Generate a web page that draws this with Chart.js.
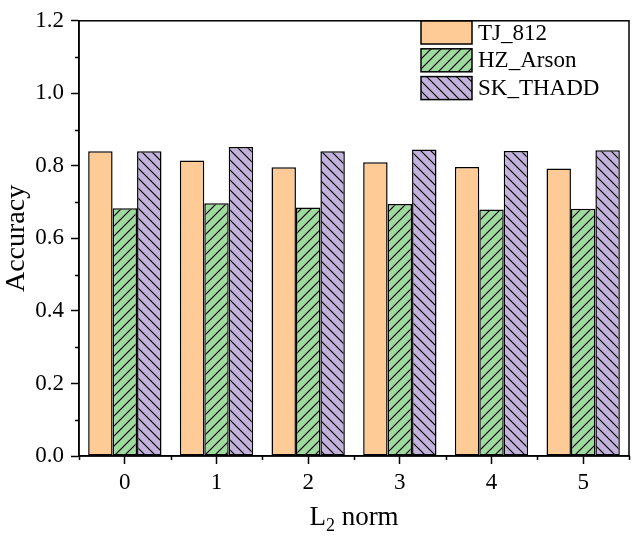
<!DOCTYPE html>
<html>
<head>
<meta charset="utf-8">
<script src="https://cdn.jsdelivr.net/npm/chart.js@4.4.1/dist/chart.umd.min.js"></script>
<style>
  html, body { margin: 0; padding: 0; background: #fff; }
</style>
</head>
<body>
<canvas id="chart" width="632" height="538"></canvas>
<script>
// data
const categories = ['0', '1', '2', '3', '4', '5'];
const seriesNames = ['TJ_812', 'HZ_Arson', 'SK_THADD'];
const tj812   = [0.840, 0.815, 0.796, 0.810, 0.797, 0.793];
const hzArson = [0.683, 0.697, 0.685, 0.695, 0.680, 0.682];
const skThadd = [0.840, 0.852, 0.840, 0.845, 0.841, 0.843];
const yMin = 0, yMax = 1.2, yStep = 0.2;

const FONT = '"Liberation Serif", "Times New Roman", serif';
const canvas = document.getElementById('chart');
const ctx = canvas.getContext('2d');

// diagonal hatch fill; dir 1 = "/", dir -1 = "\"
function hatch(bg, dir) {
  const s = 10;
  const c = document.createElement('canvas');
  c.width = s; c.height = s;
  const g = c.getContext('2d');
  g.fillStyle = bg;
  g.fillRect(0, 0, s, s);
  g.strokeStyle = '#000';
  g.lineWidth = 1.2;
  g.beginPath();
  if (dir > 0) {
    g.moveTo(-1, s + 1); g.lineTo(s + 1, -1);
    g.moveTo(-1, 1); g.lineTo(1, -1);
    g.moveTo(s - 1, s + 1); g.lineTo(s + 1, s - 1);
  } else {
    g.moveTo(-1, -1); g.lineTo(s + 1, s + 1);
    g.moveTo(s - 1, -1); g.lineTo(s + 1, 1);
    g.moveTo(-1, s - 1); g.lineTo(1, s + 1);
  }
  g.stroke();
  return ctx.createPattern(c, 'repeat');
}

const fills = [
  '#FECA96',
  hatch('#9FDA9F', 1),
  hatch('#C3B3DC', -1)
];

// frame, minor ticks, legend and x title
const extras = {
  id: 'extras',
  afterDraw(chart) {
    const c = chart.ctx;
    const a = chart.chartArea;
    const xs = chart.scales.x, ys = chart.scales.y;
    c.save();
    c.strokeStyle = '#000';
    c.lineWidth = 1.5;
    c.strokeRect(a.left, a.top, a.right - a.left, a.bottom - a.top);

    // minor ticks
    c.beginPath();
    for (let v = yMin + yStep / 2; v < yMax; v += yStep) {
      const py = Math.round(ys.getPixelForValue(v)) + 0.5;
      c.moveTo(a.left, py); c.lineTo(a.left - 4, py);
    }
    for (let i = 0; i <= categories.length; i++) {
      const px = Math.round(xs.getPixelForValue(i - 0.5)) + 0.5;
      c.moveTo(px, a.bottom); c.lineTo(px, a.bottom + 4);
    }
    c.stroke();

    // legend
    const lx = 421, ly = 21, sw = 51, sh = 23, pitch = 27.8;
    c.font = '23px ' + FONT;
    c.textBaseline = 'middle';
    c.textAlign = 'left';
    chart.data.datasets.forEach((ds, i) => {
      const y = ly + i * pitch;
      c.fillStyle = ds.backgroundColor;
      c.fillRect(lx, y, sw, sh);
      c.strokeStyle = '#000';
      c.lineWidth = 1.5;
      c.strokeRect(lx, y, sw, sh);
      c.fillStyle = '#000';
      c.fillText(ds.label, lx + sw + 6, y + sh / 2 + 1);
    });

    // x title with subscript
    const cx = (a.left + a.right) / 2;
    const by = chart.height - 13;
    c.textBaseline = 'alphabetic';
    c.font = '27px ' + FONT;
    const wL = c.measureText('L').width;
    const wN = c.measureText(' norm').width;
    c.font = '18px ' + FONT;
    const w2 = c.measureText('2').width;
    let x = cx - (wL + w2 + wN) / 2;
    c.fillStyle = '#000';
    c.font = '27px ' + FONT;
    c.fillText('L', x, by); x += wL;
    c.font = '18px ' + FONT;
    c.fillText('2', x, by + 6); x += w2;
    c.font = '27px ' + FONT;
    c.fillText(' norm', x, by);
    c.restore();
  }
};

const seriesValues = [tj812, hzArson, skThadd];

new Chart(ctx, {
  type: 'bar',
  data: {
    labels: categories,
    datasets: seriesNames.map((name, i) => ({
      label: name,
      data: seriesValues[i],
      backgroundColor: fills[i],
      borderColor: '#000',
      borderWidth: 1.5,
      borderSkipped: false,
      categoryPercentage: 0.8,
      barPercentage: 1.0
    }))
  },
  options: {
    responsive: false,
    animation: false,
    layout: { padding: { top: 13, right: 3, left: 0, bottom: 0 } },
    plugins: {
      legend: { display: false },
      tooltip: { enabled: false }
    },
    scales: {
      x: {
        grid: {
          offset: false,
          drawOnChartArea: false,
          tickLength: 8,
          tickColor: '#000',
          tickWidth: 1.5
        },
        border: { display: true, color: '#000', width: 1.5 },
        ticks: {
          color: '#000',
          padding: 5,
          font: { family: FONT, size: 23 },
          maxRotation: 0
        },
        afterFit(scale) { scale.height = 82; }
      },
      y: {
        min: yMin,
        max: yMax,
        grid: {
          drawOnChartArea: false,
          tickLength: 8,
          tickColor: '#000',
          tickWidth: 1.5
        },
        border: { display: true, color: '#000', width: 1.5 },
        ticks: {
          stepSize: yStep,
          color: '#000',
          padding: 7,
          font: { family: FONT, size: 23 },
          callback: v => v.toFixed(1)
        },
        title: {
          display: true,
          text: 'Accuracy',
          color: '#000',
          font: { family: FONT, size: 28 },
          padding: { top: 0, bottom: 0 }
        },
        afterFit(scale) { scale.width = 79; }
      }
    }
  },
  plugins: [extras]
});
</script>
</body>
</html>
